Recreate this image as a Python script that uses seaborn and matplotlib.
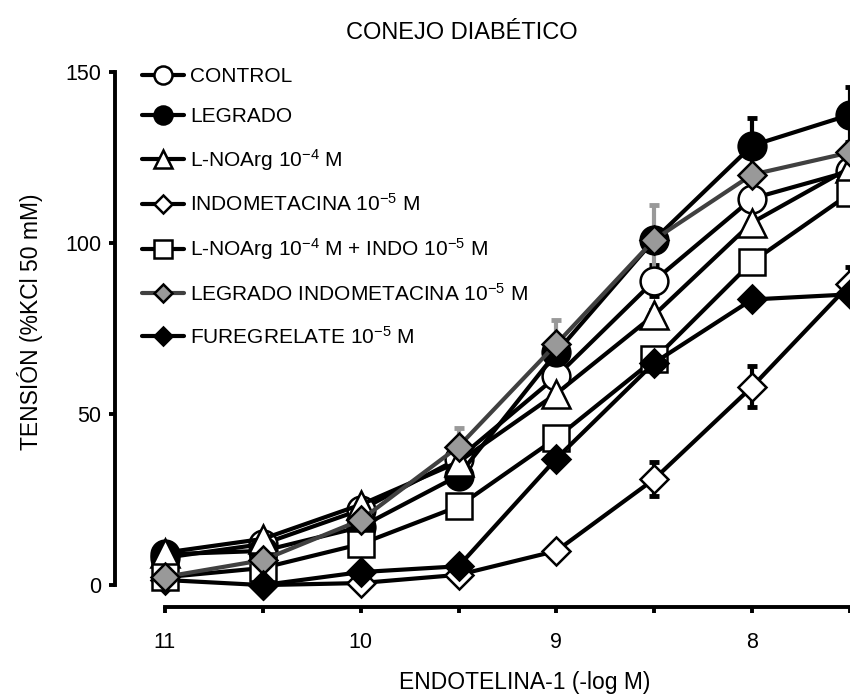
"""
Curvas concentracion-respuesta a endotelina-1 (conejo diabetico)
"""
import numpy as np
import pandas as pd
import matplotlib
matplotlib.use("Agg")
import matplotlib.pyplot as plt
import seaborn as sns

# -log M de endotelina-1
log_conc = [11, 10.5, 10, 9.5, 9, 8.5, 8, 7.5]
tick_labels = ["11", "", "10", "", "9", "", "8", ""]

# tension (% KCl 50 mM)
control = [8, 12, 22, 37, 61, 89, 113, 121]
legrado = [9, 10, 17, 32, 68, 101, 128.5, 137.5]
lnoarg = [9.5, 13.5, 23.5, 36, 56, 79, 106, 122]
indometacina = [1.5, 0, 0.6, 3, 10, 31, 58, 88]
lnoarg_indo = [2.3, 5, 12, 23, 43, 66, 94.5, 114.5]
legrado_indo = [2.4, 7.3, 19, 40.5, 70.5, 101, 120, 126.5]
furegrelate = [np.nan, 0, 3.8, 5.5, 37, 65, 83.5, 85]

# error estandar
err_control = [0, 0, 0, 0, 1.5, 4.5, 2, 0]
err_legrado = [0, 0, 0, 0, 0, 0, 8, 8]
err_lnoarg = [0, 0, 0, 0, 0, 1.5, 0, 0]
err_indometacina = [0, 0, 0, 0, 0, 5, 6, 5]
err_lnoarg_indo = [0, 0, 0, 0, 0, 0, 0, 0]
err_legrado_indo = [0, 0, 0, 5.5, 7, 10, 0, 0]
err_furegrelate = [0, 0, 0, 0, 0, 1.5, 2, 0]

labels = ["CONTROL", "LEGRADO", "L-NOArg 10$^{-4}$ M",
          "INDOMETACINA 10$^{-5}$ M",
          "L-NOArg 10$^{-4}$ M + INDO 10$^{-5}$ M",
          "LEGRADO INDOMETACINA 10$^{-5}$ M",
          "FUREGRELATE 10$^{-5}$ M"]

series = [control, legrado, lnoarg, indometacina, lnoarg_indo, legrado_indo, furegrelate]
errors = [err_control, err_legrado, err_lnoarg, err_indometacina,
          err_lnoarg_indo, err_legrado_indo, err_furegrelate]

# estilo de cada serie: marcador, relleno, color de linea, tamano
styles = [
    ("o", "white", "black", 20),
    ("o", "black", "black", 20),
    ("^", "white", "black", 20),
    ("D", "white", "black", 14),
    ("s", "white", "black", 19),
    ("D", "#999999", "#404040", 14),
    ("D", "black", "black", 14),
]

sns.set_style("ticks")
plt.rcParams["font.family"] = ["Liberation Sans", "DejaVu Sans"]
plt.rcParams["mathtext.fontset"] = "custom"
plt.rcParams["mathtext.rm"] = "Liberation Sans"
plt.rcParams["mathtext.it"] = "Liberation Sans"
plt.rcParams["text.color"] = "black"
plt.rcParams["axes.edgecolor"] = "black"
plt.rcParams["xtick.color"] = "black"
plt.rcParams["ytick.color"] = "black"
plt.rcParams["xtick.labelcolor"] = "black"
plt.rcParams["ytick.labelcolor"] = "black"

fig = plt.figure(figsize=(8.5, 6.97), dpi=100)
ax = fig.add_axes([115 / 850, 1 - 607 / 697, 1 - 115 / 850, (607 - 72) / 697])

for vals, err, lab, (mk, fc, lc, ms) in zip(series, errors, labels, styles):
    ecol = "#999999" if fc == "#999999" else "black"
    ax.errorbar(log_conc, vals, yerr=err, fmt="none", ecolor=ecol,
                elinewidth=3, capsize=3.5, capthick=3.5, zorder=1.5, clip_on=False)
    sns.lineplot(x=log_conc, y=vals, ax=ax, color=lc, linewidth=3,
                 marker=mk, markersize=ms, markerfacecolor=fc,
                 markeredgecolor="black", markeredgewidth=1.8,
                 label=lab, clip_on=False, zorder=2)

ax.set_xlim(11.255, 7.5)
ax.set_ylim(-6.4, 150)
ax.set_xticks(log_conc)
ax.set_xticklabels(tick_labels)
ax.set_yticks([0, 50, 100, 150])

sns.despine(ax=ax)
ax.spines["left"].set_bounds(0, 150)
ax.spines["bottom"].set_bounds(11, 7.5)
for sp in ["left", "bottom"]:
    ax.spines[sp].set_linewidth(2.8)
    ax.spines[sp].set_color("black")
ax.tick_params(axis="both", direction="out", length=4, width=2.8, labelsize=15.5,
               colors="black")
ax.tick_params(axis="x", pad=14)
ax.tick_params(axis="y", pad=6)
ax.set_xlabel("")
ax.set_ylabel("")

fig.text(462 / 850, 1 - 33 / 697, "CONEJO DIABÉTICO", ha="center", va="center", fontsize=17)
fig.text(525 / 850, 1 - 683 / 697, "ENDOTELINA-1 (-log M)", ha="center", va="center", fontsize=16.5)
fig.text(30 / 850, 1 - 322 / 697, "TENSIÓN (%KCl 50 mM)", ha="center", va="center",
         rotation=90, fontsize=16.5)

leg = ax.legend(loc="upper left", bbox_to_anchor=(142 / 850, 1 - 67 / 697),
                bbox_transform=fig.transFigure, frameon=False, fontsize=15,
                markerscale=0.65, handlelength=2.0, handletextpad=0.3,
                labelspacing=1.0, borderpad=0, borderaxespad=0)

plt.savefig("out.png", dpi=100)
